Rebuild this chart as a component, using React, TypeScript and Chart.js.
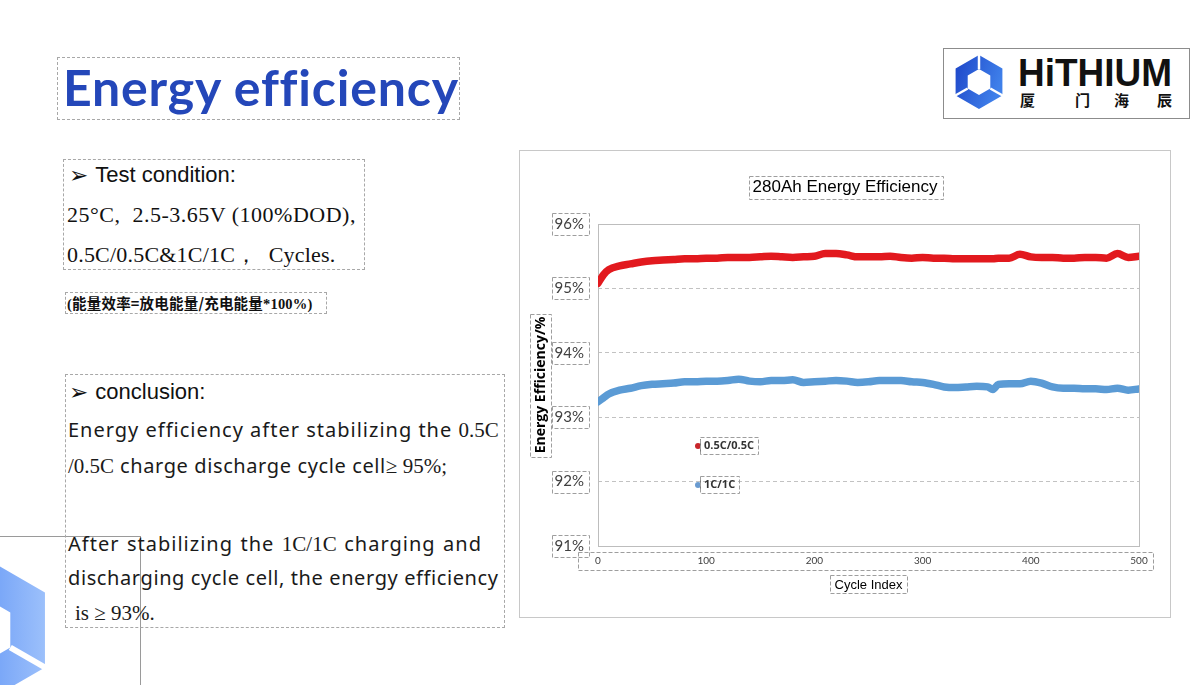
import React, { useEffect, useRef } from "react";
import { Chart, registerables } from "chart.js";

Chart.register(...registerables);

// ---------- chart data ----------
const cycleIndex = [
  0, 5, 10, 20, 30, 40, 50, 60, 70, 80, 90, 100, 110, 120, 130, 140, 150, 160, 170, 180, 190, 200,
  210, 220, 230, 240, 250, 260, 270, 280, 290, 300, 310, 320, 330, 340, 350, 360, 365, 370, 380,
  390, 400, 410, 420, 430, 440, 450, 460, 470, 480, 490, 500,
];
const efficiency05C = [
  95.08, 95.21, 95.29, 95.35, 95.38, 95.41, 95.43, 95.44, 95.45, 95.46, 95.46, 95.47, 95.47, 95.48,
  95.48, 95.48, 95.49, 95.5, 95.49, 95.48, 95.49, 95.5, 95.54, 95.54, 95.52, 95.49, 95.49, 95.49,
  95.5, 95.48, 95.47, 95.48, 95.47, 95.47, 95.46, 95.46, 95.46, 95.46, 95.46, 95.47, 95.47, 95.53,
  95.49, 95.48, 95.48, 95.47, 95.47, 95.48, 95.48, 95.47, 95.54, 95.48, 95.5,
];
const efficiency1C = [
  93.24, 93.3, 93.36, 93.42, 93.45, 93.49, 93.51, 93.52, 93.53, 93.55, 93.55, 93.56, 93.56, 93.57,
  93.59, 93.56, 93.55, 93.57, 93.57, 93.58, 93.54, 93.55, 93.56, 93.57, 93.56, 93.54, 93.55, 93.57,
  93.57, 93.57, 93.55, 93.54, 93.51, 93.47, 93.46, 93.47, 93.48, 93.47, 93.43, 93.51, 93.52, 93.52,
  93.56, 93.53, 93.47, 93.45, 93.45, 93.44, 93.44, 93.43, 93.45, 93.42, 93.44,
];
const seriesLabels = ["0.5C/0.5C", "1C/1C"];
const seriesColors = ["#e2191e", "#5b9bd5"];
const markerColors = ["#c8262b", "#6a9bd0"];
const yMin = 91;
const yMax = 96;
const yStep = 1;
const xMin = 0;
const xMax = 500;
const xStep = 100;
const chartTitle = "280Ah Energy Efficiency";
const xTitle = "Cycle Index";
const yTitle = "Energy Efficiency/%";

const DASH = "#9e9e9e";
const Y_TITLE_FONT = 'bold 14px "Open Sans"';

const decorPlugin = {
  id: "decor",
  beforeDatasetsDraw(chart: any) {
    const { ctx, chartArea: a } = chart;
    ctx.save();
    ctx.strokeStyle = "#bdbdbd";
    ctx.lineWidth = 1;
    ctx.setLineDash([]);
    ctx.strokeRect(
      Math.round(a.left) + 0.5,
      Math.round(a.top) + 0.5,
      Math.round(a.right - a.left),
      Math.round(a.bottom - a.top)
    );
    ctx.restore();
  },
  afterDraw(chart: any) {
    const { ctx, chartArea: a, scales } = chart;
    const y = scales.y;
    const box = (x: number, yy: number, w: number, h: number) => {
      ctx.strokeRect(Math.round(x) + 0.5, Math.round(yy) + 0.5, Math.round(w), Math.round(h));
    };
    ctx.save();
    // chart title
    ctx.font = '17px "Liberation Sans"';
    ctx.fillStyle = "#000";
    ctx.textAlign = "center";
    ctx.textBaseline = "middle";
    const cx = chart.width / 2;
    ctx.fillText(chartTitle, cx, 36);
    const tw = ctx.measureText(chartTitle).width;
    ctx.strokeStyle = DASH;
    ctx.lineWidth = 1;
    ctx.setLineDash([4, 2]);
    box(cx - tw / 2 - 4, 25, tw + 9, 23);

    // y tick boxes
    ctx.font = "15px Lato";
    y.ticks.forEach((t: any, i: number) => {
      const py = y.getPixelForTick(i);
      const w = ctx.measureText(String(t.label)).width;
      box(a.left - 14 - w - 3, py - 11, w + 8, 22);
    });
    // x tick row box
    box(a.left - 20, a.bottom + 6, a.right - a.left + 34, 18);
    // x title box
    ctx.font = '13px "Liberation Sans"';
    const xw = ctx.measureText(xTitle).width;
    const xc = (a.left + a.right) / 2;
    box(xc - xw / 2 - 5, a.bottom + 29, xw + 9, 18);
    // y title box
    ctx.font = Y_TITLE_FONT;
    const yw = ctx.measureText(yTitle).width;
    const yc = (a.top + a.bottom) / 2;
    box(10, yc - yw / 2 - 3, 21, yw + 6);

    // legend
    const lx = a.left + 100;
    const ly = [a.top + 222, a.top + 261];
    seriesLabels.forEach((lab, i) => {
      ctx.setLineDash([]);
      ctx.fillStyle = markerColors[i];
      ctx.beginPath();
      ctx.arc(lx, ly[i], 3, 0, Math.PI * 2);
      ctx.fill();
      ctx.strokeStyle = "#7a7a7a";
      ctx.beginPath();
      ctx.moveTo(lx + 2.5, ly[i] - 7);
      ctx.lineTo(lx + 2.5, ly[i] + 7);
      ctx.stroke();
      ctx.font = 'bold 11px "Open Sans"';
      ctx.fillStyle = "#333";
      ctx.textAlign = "left";
      ctx.textBaseline = "middle";
      ctx.fillText(lab, lx + 6, ly[i]);
      const w = ctx.measureText(lab).width;
      ctx.strokeStyle = DASH;
      ctx.setLineDash([4, 2]);
      box(lx + 2, ly[i] - 9, w + 8, 17);
    });
    ctx.restore();
  },
};

function EnergyChart() {
  const ref = useRef<HTMLCanvasElement>(null);
  useEffect(() => {
    const canvas = ref.current;
    if (!canvas) return;
    const mk = (vals: number[]) => cycleIndex.map((c, i) => ({ x: c, y: vals[i] }));
    const chart = new Chart(canvas, {
      type: "line",
      data: {
        datasets: [
          {
            label: seriesLabels[0],
            data: mk(efficiency05C),
            borderColor: seriesColors[0],
            backgroundColor: seriesColors[0],
            borderWidth: 7.5,
            pointRadius: 0,
            cubicInterpolationMode: "monotone",
            borderCapStyle: "round",
            borderJoinStyle: "round",
          },
          {
            label: seriesLabels[1],
            data: mk(efficiency1C),
            borderColor: seriesColors[1],
            backgroundColor: seriesColors[1],
            borderWidth: 7.5,
            pointRadius: 0,
            cubicInterpolationMode: "monotone",
            borderCapStyle: "round",
            borderJoinStyle: "round",
          },
        ],
      },
      options: {
        responsive: false,
        animation: false,
        devicePixelRatio: 1,
        layout: { padding: { left: 0, right: 31, top: 73, bottom: 0 } },
        plugins: {
          legend: { display: false },
          tooltip: { enabled: false },
          title: { display: false },
        },
        scales: {
          x: {
            type: "linear",
            min: xMin,
            max: xMax,
            afterFit: (s: any) => {
              s.height = 71;
            },
            ticks: {
              stepSize: xStep,
              color: "#404040",
              font: { family: "Lato", size: 10 },
              padding: 9,
              maxRotation: 0,
              autoSkip: false,
            },
            grid: { display: false, drawTicks: false },
            border: { display: false },
            title: {
              display: true,
              text: xTitle,
              color: "#000",
              font: { family: "Liberation Sans", size: 13 },
              padding: { top: 0, bottom: 24 },
            },
          },
          y: {
            type: "linear",
            min: yMin,
            max: yMax,
            afterFit: (s: any) => {
              s.width = 78;
            },
            ticks: {
              stepSize: yStep,
              callback: (v: any) => v + "%",
              color: "#404040",
              font: { family: "Lato", size: 15 },
              padding: 14,
            },
            grid: {
              drawTicks: false,
              lineWidth: 1,
              color: (c: any) =>
                c.tick && (c.tick.value === yMin || c.tick.value === yMax) ? "rgba(0,0,0,0)" : "#c2c2c2",
            },
            border: { display: false, dash: [4, 3] },
            title: {
              display: true,
              text: yTitle,
              color: "#000",
              font: { family: "Open Sans", size: 14, weight: "bold" },
              padding: { top: 12.6, bottom: 0 },
            },
          },
        },
      } as any,
      plugins: [decorPlugin],
    });
    return () => chart.destroy();
  }, []);
  return <canvas ref={ref} width={650} height={466} style={{ display: "block", width: 650, height: 466 }} />;
}

const abs = (s: React.CSSProperties): React.CSSProperties => ({ position: "absolute", ...s });
const serif = '"Liberation Serif", "DejaVu Serif", serif';
const sans = '"Liberation Sans", "DejaVu Sans", sans-serif';
const body = '"Noto Sans", sans-serif';
const S = ({ children }: { children: React.ReactNode }) => (
  <span style={{ fontFamily: serif, letterSpacing: 0, fontSize: 21 }}>{children}</span>
);

function ConcLine({ top, width, children, left = 68, ls = 1.0 }: any) {
  return (
    <div
      style={abs({
        top,
        left,
        width,
        whiteSpace: "nowrap",
        textAlign: "justify",
        textAlignLast: "justify" as any,
        fontFamily: body,
        fontSize: 20,
        lineHeight: "20px",
        letterSpacing: ls,
        color: "#1a1a1a",
      })}
    >
      {children}
    </div>
  );
}

const Arrow = () => (
  <span style={{ fontFamily: '"DejaVu Sans"', fontSize: 23, position: "relative", top: 1 }}>➢</span>
);

export default function App() {
  return (
    <div style={abs({ left: 0, top: 0, width: 1196, height: 685, overflow: "hidden", background: "#fff" })}>
      {/* bottom-left decoration */}
      <svg style={abs({ left: 0, top: 530 })} width={150} height={155}>
        <defs>
          <linearGradient id="bl" x1="0" y1="0" x2="1" y2="0">
            <stop offset="0" stopColor="#3c7af2" />
            <stop offset="1" stopColor="#9cc0fb" />
          </linearGradient>
        </defs>
        <path
          d="M-20 25 L44.95 62.5 L44.95 137.5 L-20 175 L-84.95 137.5 L-84.95 62.5 Z M-20 65 L-50.3 82.5 L-50.3 117.5 L-20 135 L10.3 117.5 L10.3 82.5 Z"
          fill="url(#bl)"
          fillRule="evenodd"
        />
        <line x1={10.3} y1={117.5} x2={46} y2={138} stroke="#fff" strokeWidth={6} />
        <line x1={0} y1={6.5} x2={140} y2={6.5} stroke="#9a9a9a" strokeWidth={1} />
        <line x1={140.5} y1={6} x2={140.5} y2={155} stroke="#9a9a9a" strokeWidth={1} />
      </svg>

      {/* title */}
      <div style={abs({ left: 57, top: 57, width: 403, height: 63, border: "1px dashed #a8a8a8", boxSizing: "border-box" })} />
      <div
        style={abs({
          left: 63,
          top: 62,
          fontFamily: "Lato, sans-serif",
          fontWeight: 700,
          fontSize: 50,
          lineHeight: "50px",
          letterSpacing: 0.8,
          color: "#2447b9",
          whiteSpace: "nowrap",
        })}
      >
        Energy efficiency
      </div>

      {/* logo */}
      <div style={abs({ left: 943, top: 48, width: 247, height: 71, border: "1px solid #8c8c8c", boxSizing: "border-box" })}>
        <svg width={245} height={69} style={{ display: "block" }}>
          <defs>
            <linearGradient id="lg" x1="0" y1="0" x2="1" y2="0.4">
              <stop offset="0" stopColor="#1d45c8" />
              <stop offset="1" stopColor="#3f80ea" />
            </linearGradient>
          </defs>
          <path
            d="M35 6 L58.4 19.5 L58.4 46.5 L35 60 L11.6 46.5 L11.6 19.5 Z M35 20 L23.7 26.5 L23.7 39.5 L35 46 L46.3 39.5 L46.3 26.5 Z"
            fill="url(#lg)"
            fillRule="evenodd"
          />
          <line x1={35} y1={20} x2={35} y2={5} stroke="#fff" strokeWidth={2.5} />
          <line x1={23.7} y1={39.5} x2={10.5} y2={47} stroke="#fff" strokeWidth={2.5} />
          <line x1={46.3} y1={39.5} x2={59.5} y2={47} stroke="#fff" strokeWidth={2.5} />
          <text
            x={74}
            y={37}
            fontFamily="Liberation Sans"
            fontWeight="bold"
            fontSize={38}
            textLength={154}
            lengthAdjust="spacingAndGlyphs"
            fill="#111"
          >
            HiTHIUM
          </text>
          {["厦", "门", "海", "辰"].map((ch, i) => (
            <text
              key={ch}
              x={[76, 131, 170, 213][i]}
              y={57}
              fontFamily="Noto Sans CJK SC"
              fontWeight="bold"
              fontSize={15}
              fill="#111"
            >
              {ch}
            </text>
          ))}
        </svg>
      </div>

      {/* test condition */}
      <div style={abs({ left: 63, top: 159, width: 302, height: 111, border: "1px dashed #a8a8a8", boxSizing: "border-box" })} />
      <div style={abs({ left: 69, top: 163, fontFamily: sans, fontSize: 22, lineHeight: "22px", color: "#111", whiteSpace: "nowrap" })}>
        <Arrow />
        <span style={{ marginLeft: 7 }}>Test condition:</span>
      </div>
      <div
        style={abs({ left: 67, top: 204, fontFamily: serif, fontSize: 22, lineHeight: "22px", letterSpacing: 0.5, color: "#111", whiteSpace: "pre" })}
      >
        {"25°C,  2.5-3.65V (100%DOD),"}
      </div>
      <div
        style={abs({ left: 67, top: 244, fontFamily: serif, fontSize: 22, lineHeight: "22px", letterSpacing: 0.2, color: "#111", whiteSpace: "pre" })}
      >
        {"0.5C/0.5C&1C/1C，  Cycles."}
      </div>

      <div style={abs({ left: 65, top: 292, width: 262, height: 22, border: "1px dashed #a8a8a8", boxSizing: "border-box" })} />
      <div
        style={abs({
          left: 67,
          top: 295,
          fontFamily: '"Noto Sans CJK SC", sans-serif',
          fontWeight: 700,
          fontSize: 14.5,
          lineHeight: "16px",
          letterSpacing: 0.2,
          color: "#111",
          whiteSpace: "nowrap",
        })}
      >
        <span style={{ fontFamily: serif }}>(</span>能量效率=放电能量/充电能量<span style={{ fontFamily: serif }}>*100%)</span>
      </div>

      {/* conclusion */}
      <div style={abs({ left: 65, top: 374, width: 440, height: 254, border: "1px dashed #a8a8a8", boxSizing: "border-box" })} />
      <div style={abs({ left: 69, top: 380, fontFamily: sans, fontSize: 22, lineHeight: "22px", color: "#111", whiteSpace: "nowrap" })}>
        <Arrow />
        <span style={{ marginLeft: 7 }}>conclusion:</span>
      </div>
      <ConcLine top={420} width={430}>
        Energy efficiency after stabilizing the <S>0.5C</S>
      </ConcLine>
      <ConcLine top={456} width={379} ls={0.6}>
        <S>/0.5C</S> charge discharge cycle cell<S>≥ 95%;</S>
      </ConcLine>
      <ConcLine top={534} width={414}>
        After stabilizing the <S>1C/1C</S> charging and
      </ConcLine>
      <ConcLine top={568} width={430} ls={0.6}>
        discharging cycle cell, the energy efficiency
      </ConcLine>
      <div style={abs({ left: 75, top: 603, fontFamily: serif, fontSize: 21, lineHeight: "20px", color: "#1a1a1a", whiteSpace: "pre" })}>
        {"is ≥ 93%."}
      </div>

      {/* chart */}
      <div style={abs({ left: 519, top: 150, width: 652, height: 468, border: "1px solid #c8c8c8", boxSizing: "border-box" })}>
        <EnergyChart />
      </div>
    </div>
  );
}
